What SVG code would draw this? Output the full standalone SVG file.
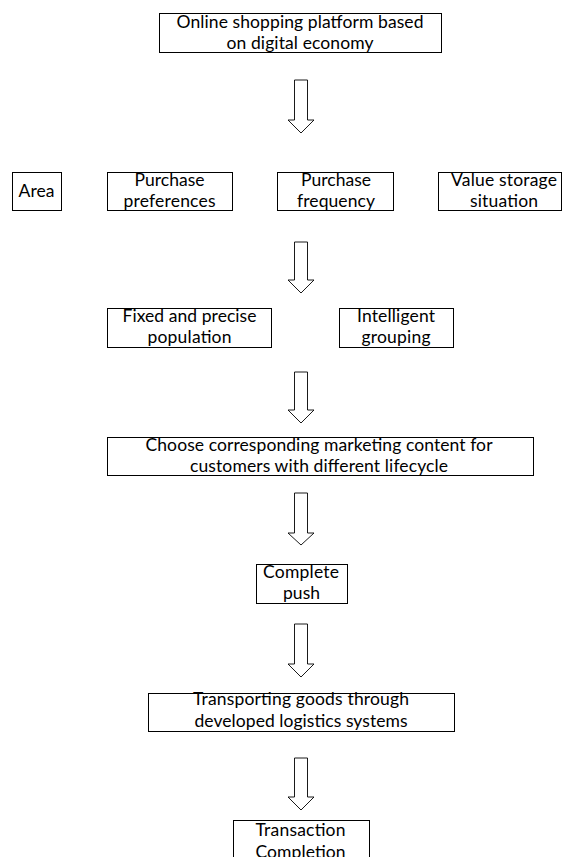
<svg xmlns="http://www.w3.org/2000/svg" width="564" height="857" viewBox="0 0 564 857">
<style>
.box{fill:#fff;stroke:#000;stroke-width:1}
.arr{fill:#fff;stroke:#000;stroke-width:0.9;stroke-linejoin:miter}
text{font-family:Lato,"Open Sans","Liberation Sans",sans-serif;font-size:17.5px;fill:#000;text-anchor:middle}
</style>
<rect width="564" height="857" fill="#fff"/>
<g id="connectors">
<polygon class="arr" points="294.5,80 307.5,80 307.5,120 314,120 301,133 288,120 294.5,120"/>
<polygon class="arr" points="294.5,242 307.5,242 307.5,280 314,280 301,293 288,280 294.5,280"/>
<polygon class="arr" points="294.5,372 307.5,372 307.5,410 314,410 301,423 288,410 294.5,410"/>
<polygon class="arr" points="294.5,493 307.5,493 307.5,533 314,533 301,545 288,533 294.5,533"/>
<polygon class="arr" points="294.5,624 307.5,624 307.5,664 314,664 301,677 288,664 294.5,664"/>
<polygon class="arr" points="294.5,758 307.5,758 307.5,797 314,797 301,810 288,797 294.5,797"/>
</g>
<g id="n1"><rect class="box" x="159.5" y="13.5" width="282" height="39"/><text x="300" y="28" textLength="247">Online shopping platform based</text><text x="300" y="48.5" textLength="147">on digital economy</text></g>
<g id="n2"><rect class="box" x="12.5" y="172.5" width="49" height="38"/><text x="36.5" y="197" textLength="36">Area</text></g>
<g id="n3"><rect class="box" x="107.5" y="172.5" width="125" height="38"/><text x="169.5" y="185.5" textLength="70">Purchase</text><text x="169.5" y="207" textLength="92">preferences</text></g>
<g id="n4"><rect class="box" x="277.5" y="172.5" width="116" height="38"/><text x="336" y="185.5" textLength="70">Purchase</text><text x="336" y="207" textLength="78">frequency</text></g>
<g id="n5"><rect class="box" x="438.5" y="172.5" width="123" height="38"/><text x="504" y="185.5" textLength="106">Value storage</text><text x="504" y="207" textLength="68">situation</text></g>
<g id="n6"><rect class="box" x="107.5" y="308.5" width="164" height="39"/><text x="189.5" y="322" textLength="134">Fixed and precise</text><text x="189.5" y="343" textLength="84">population</text></g>
<g id="n7"><rect class="box" x="339.5" y="308.5" width="114" height="39"/><text x="396" y="322" textLength="78">Intelligent</text><text x="396" y="343" textLength="69">grouping</text></g>
<g id="n8"><rect class="box" x="107.5" y="437.5" width="426" height="38"/><text x="319" y="450.5" textLength="347">Choose corresponding marketing content for</text><text x="319" y="472" textLength="258">customers with different lifecycle</text></g>
<g id="n9"><rect class="box" x="256.5" y="564.5" width="91" height="39"/><text x="301" y="578" textLength="76">Complete</text><text x="301.5" y="598.5" textLength="37">push</text></g>
<g id="n10"><rect class="box" x="148.5" y="693.5" width="306" height="38"/><text x="301" y="705" textLength="216">Transporting goods through</text><text x="301" y="726.5" textLength="213">developed logistics systems</text></g>
<g id="n11"><rect class="box" x="233.5" y="820.5" width="136" height="60"/><text x="300.5" y="836" textLength="90">Transaction</text><text x="300.5" y="858" textLength="90">Completion</text></g>
</svg>
